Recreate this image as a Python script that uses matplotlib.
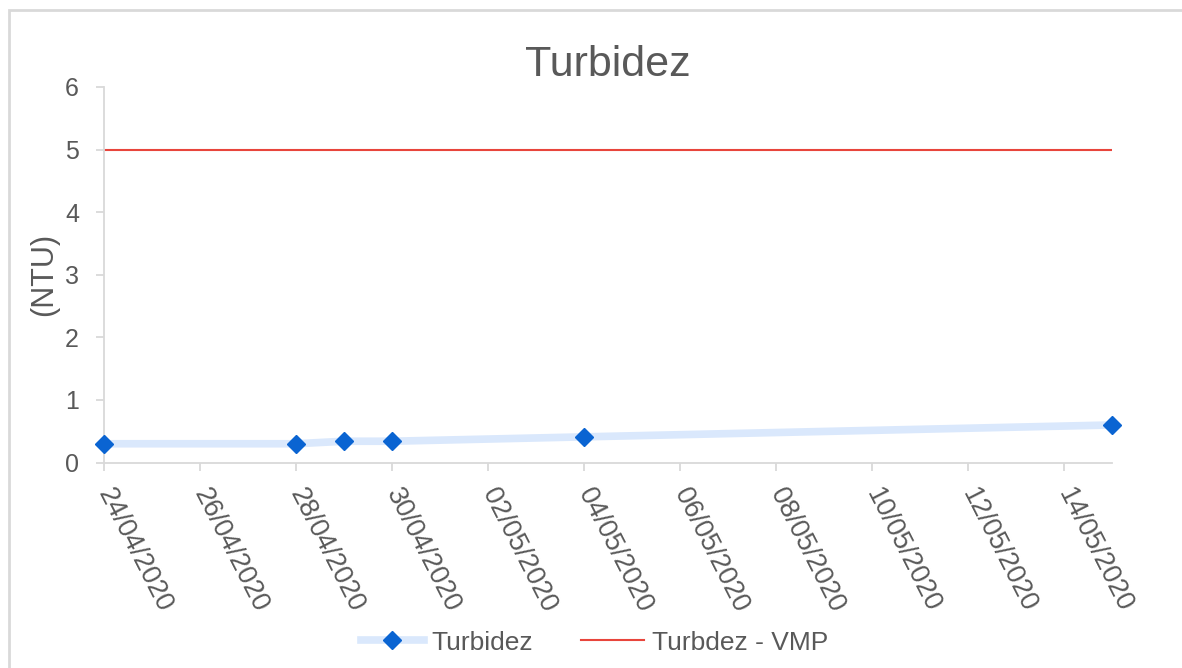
import numpy as np
import pandas as pd
import matplotlib
matplotlib.use("Agg")
import matplotlib.pyplot as plt
import matplotlib.dates as mdates
from matplotlib.patches import Rectangle

plt.rcParams['font.family'] = ['Liberation Sans', 'DejaVu Sans']

# turbidity readings (NTU) and the max allowed value (VMP)
dates = pd.to_datetime(["2020-04-24", "2020-04-28", "2020-04-29",
                        "2020-04-30", "2020-05-04", "2020-05-15"])
turbidez = [0.30, 0.30, 0.34, 0.34, 0.41, 0.60]
vmp = [5, 5, 5, 5, 5, 5]
tick_dates = pd.date_range("2020-04-24", "2020-05-14", freq="2D")

txt = "#595959"
gray = "#d9d9d9"

fig = plt.figure(figsize=(11.82, 6.68), dpi=100)
ax = fig.add_axes([0.088, 0.3076, 0.8528, 0.5622])

# outer chart border
fig.patches.append(Rectangle((9 / 1182, -0.05), 1.5, 1 - 10 / 668 + 0.05,
                             transform=fig.transFigure, fill=False,
                             edgecolor=gray, lw=2))

ax.plot(dates, turbidez, color="#dae8fc", lw=5.5, marker="D", markersize=9,
        markerfacecolor="#0a64d2", markeredgecolor="#0a64d2",
        label="Turbidez", clip_on=False, zorder=3)
ax.plot(dates, vmp, color="#e8453c", lw=1.5, label="Turbdez - VMP")

ax.set_xlim(dates[0], dates[-1])
ax.set_ylim(0, 6)
ax.set_yticks(range(0, 7))
ax.set_xticks(tick_dates)
ax.xaxis.set_major_formatter(mdates.DateFormatter("%d/%m/%Y"))

for s in ["top", "right"]:
    ax.spines[s].set_visible(False)
for s in ["left", "bottom"]:
    ax.spines[s].set_color(gray)
    ax.spines[s].set_linewidth(1.3)

ax.tick_params(axis="both", colors=gray, length=6, width=1.3, labelsize=18,
               labelcolor=txt)
ax.tick_params(axis="y", pad=12)
ax.tick_params(axis="x", labelsize=19.5, pad=14)
for lab in ax.get_xticklabels():
    lab.set_rotation(-63)
    lab.set_ha("left")
    lab.set_va("center")
    lab.set_rotation_mode("anchor")

ax.set_title("Turbidez", fontsize=31, color=txt, pad=8)
ax.set_ylabel("(NTU)", fontsize=22, color=txt, labelpad=4)

fig.legend(loc="center", bbox_to_anchor=(0.503, 0.038), ncol=2, frameon=False,
           fontsize=19, labelcolor=txt, handlelength=2.4, columnspacing=1.8,
           handletextpad=0.3)

fig.savefig("out.png", dpi=100)
